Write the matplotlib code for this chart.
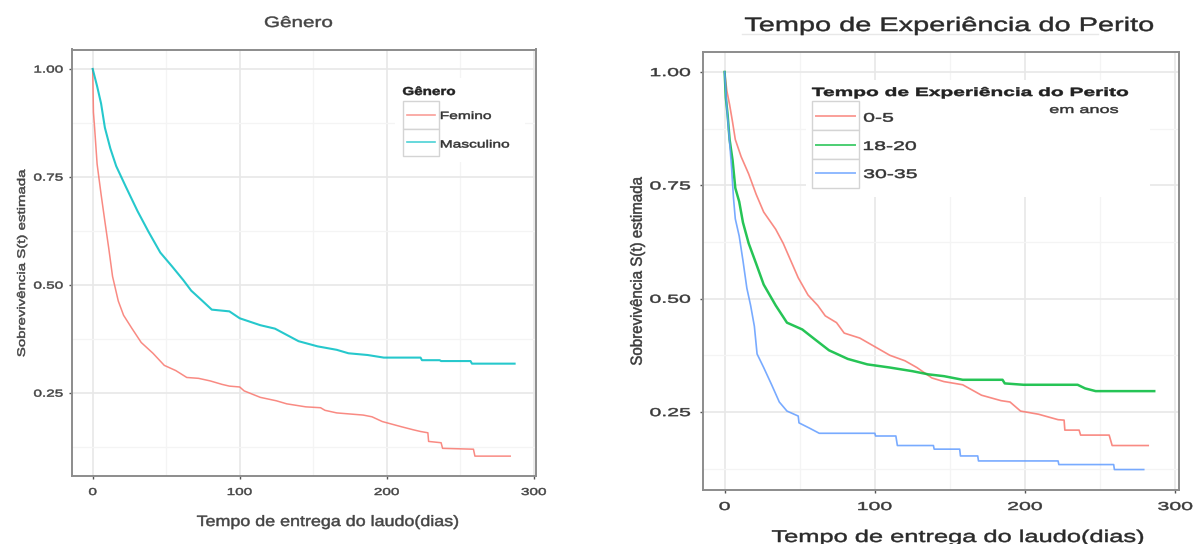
import matplotlib
matplotlib.use('Agg')
import matplotlib.pyplot as plt
from matplotlib.font_manager import FontProperties
from matplotlib.lines import Line2D
from matplotlib.patches import PathPatch, Rectangle
from matplotlib.textpath import TextPath
from matplotlib.transforms import Affine2D, IdentityTransform

# ---- data (curve vertices) ----
genero_labels = ['Femino', 'Masculino']
fem_t = [0, 0.5, 1.3, 3, 5.7, 8.3, 11, 13.5, 17.4, 21, 26.6, 33, 41, 48.7, 56.5, 64, 72, 80, 88, 93,
         100, 103, 114, 125, 132, 145, 155, 158, 166, 184, 190, 197, 210, 218, 223, 228, 228.5,
         237, 238, 259, 260, 284]
fem_s = [1, 0.9, 0.864, 0.78, 0.71, 0.647, 0.583, 0.52, 0.463, 0.43, 0.40, 0.367, 0.342, 0.314,
         0.302, 0.286, 0.284, 0.278, 0.27, 0.266, 0.264, 0.255, 0.24, 0.232, 0.225, 0.218, 0.216,
         0.21, 0.204, 0.199, 0.195, 0.184, 0.172, 0.165, 0.161, 0.158, 0.138, 0.135, 0.122, 0.12,
         0.104, 0.104]
masc_t = [0, 3, 5.7, 8.3, 12, 16, 22.6, 30.5, 38, 46, 54, 61.7, 67, 74.7, 81, 93, 100, 114, 124,
          140, 153, 166, 174, 187, 198, 223, 224, 236, 237, 257, 258, 287]
masc_s = [1, 0.96, 0.92, 0.864, 0.816, 0.775, 0.727, 0.671, 0.623, 0.575, 0.543, 0.511, 0.487,
          0.463, 0.443, 0.439, 0.423, 0.407, 0.399, 0.37, 0.358, 0.35, 0.342, 0.338, 0.332, 0.332,
          0.326, 0.326, 0.324, 0.324, 0.318, 0.318]

exp_labels = ['0-5', '18-20', '30-35']
exp0_t = [0, 1.5, 3.3, 5.3, 7.1, 11, 16, 21, 26, 34, 39, 44, 49, 55.5, 62, 67, 74.5, 79.6, 90, 100,
          110, 120, 128, 138, 146, 158.5, 171, 184, 190, 197, 209, 222, 226, 226.5, 236, 237, 256,
          258, 282]
exp0_s = [1, 0.958, 0.928, 0.889, 0.851, 0.813, 0.775, 0.73, 0.691, 0.653, 0.622, 0.584, 0.546,
          0.508, 0.485, 0.462, 0.447, 0.424, 0.413, 0.394, 0.375, 0.363, 0.348, 0.325, 0.317, 0.31,
          0.287, 0.275, 0.272, 0.252, 0.245, 0.233, 0.232, 0.21, 0.21, 0.199, 0.199, 0.176, 0.176]
exp18_t = [0, 0.8, 2, 3.3, 5.3, 7.1, 9.7, 12.2, 16, 21, 26, 34, 41.5, 51.7, 59, 69.5, 82, 95, 110,
           125, 135.6, 146, 158.5, 185, 186.5, 199, 235, 240, 247, 286]
exp18_s = [1, 0.943, 0.905, 0.851, 0.805, 0.744, 0.714, 0.668, 0.622, 0.577, 0.531, 0.485, 0.447,
           0.432, 0.413, 0.386, 0.367, 0.355, 0.348, 0.34, 0.333, 0.329, 0.321, 0.321, 0.313, 0.31,
           0.31, 0.302, 0.296, 0.296]
exp30_t = [0, 1.3, 2.8, 4.6, 5.9, 7.1, 9.7, 12.2, 14.8, 17.3, 19.8, 21.6, 26, 31.3, 36.4, 41.5, 49,
           49.5, 56.7, 63, 100, 100.5, 114, 115, 139, 139.5, 156.5, 157, 168.5, 169, 222, 222.5,
           259, 259.5, 279]
exp30_s = [1, 0.928, 0.867, 0.79, 0.722, 0.676, 0.638, 0.584, 0.523, 0.485, 0.439, 0.378, 0.348,
           0.31, 0.272, 0.252, 0.241, 0.226, 0.214, 0.203, 0.203, 0.197, 0.197, 0.176, 0.176, 0.168,
           0.168, 0.153, 0.153, 0.142, 0.142, 0.134, 0.134, 0.123, 0.123]

x_ticks = [0, 100, 200, 300]
y_ticks = [0.25, 0.50, 0.75, 1.00]

# ---- helpers ----
W, H = 1197, 544
plt.rcParams['font.family'] = ['Liberation Sans', 'DejaVu Sans']


def px(x, y):
    return x / W, 1 - y / H


def wtext(fig, x, y, s, size, width=None, sx=1.0, ha='center', va='baseline', rot=0,
          bold=False, color='#333333', stroke=0.35):
    """Text drawn as a path so it can be widened like the (stretched) reference."""
    fp = FontProperties(family='Liberation Sans', weight='bold' if bold else 'normal')
    path = TextPath((0, 0), s, size=size, prop=fp)
    ext = path.get_extents()
    if width is not None:
        sx = width / ext.width
    ax_ = {'left': ext.x0, 'center': (ext.x0 + ext.x1) / 2, 'right': ext.x1}[ha]
    ay_ = {'baseline': 0, 'center': size * 0.358}[va]
    tr = Affine2D().translate(-ax_, -ay_).scale(sx, 1).rotate_deg(rot).translate(x, H - y)
    fig.add_artist(PathPatch(tr.transform_path(path), facecolor=color, edgecolor=color,
                             linewidth=stroke, transform=IdentityTransform(), zorder=6))


def style_axes(ax, xlim, ylim, tsize, tsx, tcolor, xlab_y, ylab_gap):
    ax.set_xlim(*xlim)
    ax.set_ylim(*ylim)
    ax.set_xticks(x_ticks)
    ax.set_yticks(y_ticks)
    ax.set_xticks([50, 150, 250], minor=True)
    ax.set_yticks([0.125, 0.375, 0.625, 0.875], minor=True)
    ax.set_axisbelow(True)
    ax.grid(True, which='major', color='#e8e8e8', linewidth=1.2)
    ax.grid(True, which='minor', color='#f4f4f4', linewidth=0.9)
    for sp in ax.spines.values():
        sp.set_color('#8c8c8c')
        sp.set_linewidth(1.4)
    ax.tick_params(which='major', length=2.5, width=1.0, color='#555555',
                   labelleft=False, labelbottom=False)
    ax.tick_params(which='minor', length=0)
    # tick labels through the axes' own data transform
    for v in x_ticks:
        xd, _ = ax.transData.transform((v, ylim[0]))
        wtext(fig, xd, xlab_y, str(v), tsize, sx=tsx, color=tcolor)
    for v in y_ticks:
        x0d, yd = ax.transData.transform((xlim[0], v))
        wtext(fig, x0d - ylab_gap, H - yd, f'{v:.2f}', tsize, sx=tsx, ha='right', va='center',
              color=tcolor)


def legend_block(fig, title, labels, colors, x0, y0, box_w, box_h, x_text, title_y, lab_base,
                 size, sx, title_size, title_w, lw, bg):
    bx, by, bw, bh = bg
    fig.add_artist(Rectangle(px(bx, by + bh), bw / W, bh / H, transform=fig.transFigure,
                             facecolor='white', edgecolor='none', zorder=1.5))
    wtext(fig, x0, title_y, title, title_size, width=title_w, ha='left', bold=True,
          color='#222222')
    for i, (lab, col) in enumerate(zip(labels, colors)):
        top = y0 + i * box_h
        fig.add_artist(Rectangle(px(x0, top + box_h), box_w / W, box_h / H,
                                 transform=fig.transFigure, facecolor='white',
                                 edgecolor='#d4d4d4', linewidth=1.0, zorder=3))
        cy = top + box_h / 2
        fig.add_artist(Line2D([(x0 + 4) / W, (x0 + box_w - 4) / W], [1 - cy / H, 1 - cy / H],
                              transform=fig.transFigure, color=col, linewidth=lw, alpha=0.7,
                              zorder=4))
        wtext(fig, x_text, lab_base[i], lab, size, sx=sx, ha='left', color='#333333')


fig = plt.figure(figsize=(W / 100, H / 100), dpi=100)

# ---- left panel: Genero ----
ax1 = fig.add_axes([71.6 / W, 1 - 476 / H, 464.1 / W, 426.5 / H])
c2 = ['#F8766D', '#00BFC4']
ax1.plot(fem_t, fem_s, color=c2[0], linewidth=1.1, alpha=0.85, zorder=2)
ax1.plot(masc_t, masc_s, color=c2[1], linewidth=1.5, alpha=0.85, zorder=2)
style_axes(ax1, (-14.35, 301.35), (0.058, 1.045), 10, 1.53, '#444444', 495, 9)
wtext(fig, 298.5, 27, 'Gênero', 15, width=67, color='#444444')
wtext(fig, 327.5, 526, 'Tempo de entrega do laudo(dias)', 15, width=261, color='#444444')
wtext(fig, 21, 263, 'Sobrevivência S(t) estimada', 11, width=187, rot=90, va='center',
      color='#444444')
legend_block(fig, 'Gênero', genero_labels, c2, x0=403, y0=101, box_w=36, box_h=27.6,
             x_text=441, title_y=95, lab_base=[119, 147.5], size=10.5, sx=1.48,
             title_size=11.5, title_w=52, lw=1.2, bg=(395, 78, 130, 84))

# ---- right panel: Tempo de Experiencia ----
ax2 = fig.add_axes([703 / W, 1 - 489.5 / H, 476 / W, 437.5 / H])
c3 = ['#F8766D', '#00BA38', '#619CFF']
ax2.plot(exp0_t, exp0_s, color=c3[0], linewidth=1.2, alpha=0.85, zorder=2)
ax2.plot(exp18_t, exp18_s, color=c3[1], linewidth=1.8, alpha=0.85, zorder=2)
ax2.plot(exp30_t, exp30_s, color=c3[2], linewidth=1.2, alpha=0.85, zorder=2)
style_axes(ax2, (-14.4, 302.5), (0.079, 1.044), 11.5, 1.85, '#3a3a3a', 510, 13)
wtext(fig, 949, 31, 'Tempo de Experiência do Perito', 19.5, width=408, color='#2a2a2a')
fig.add_artist(Line2D([742 / W, 1098 / W], [1 - 34 / H, 1 - 34 / H], transform=fig.transFigure,
                      color='#e8e8e8', linewidth=1.0))
wtext(fig, 957.5, 542, 'Tempo de entrega do laudo(dias)', 17, width=371, color='#2a2a2a')
wtext(fig, 636, 271, 'Sobrevivência S(t) estimada', 16, width=188, rot=90, va='center',
      color='#3a3a3a')
legend_block(fig, 'Tempo de Experiência do Perito', exp_labels, c3, x0=812, y0=101, box_w=47,
             box_h=29, x_text=864, title_y=96, lab_base=[121.7, 150, 178], size=12.5, sx=1.7,
             title_size=12, title_w=316, lw=1.4, bg=(806, 80, 344, 117))
wtext(fig, 1050, 113, 'em anos', 11, width=68, ha='left', color='#333333')

fig.savefig('out.png', dpi=100, facecolor='white')
